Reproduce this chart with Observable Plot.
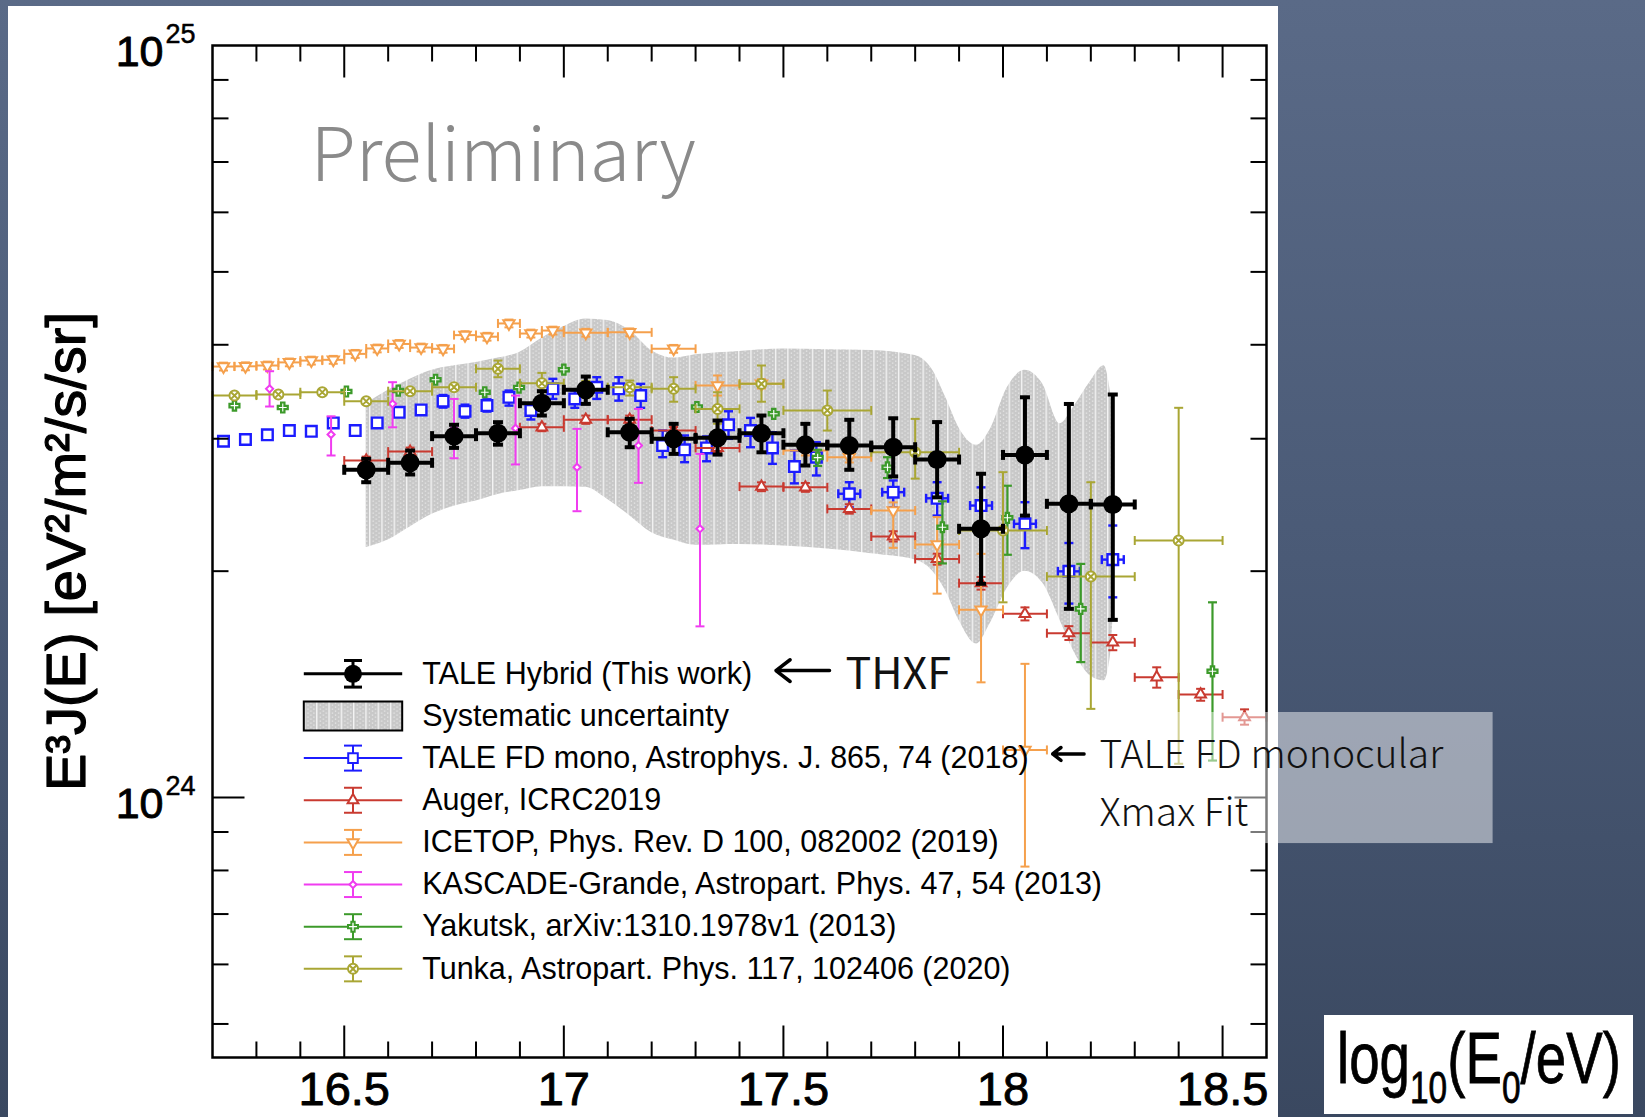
<!DOCTYPE html>
<html>
<head>
<meta charset="utf-8">
<script src="https://cdn.jsdelivr.net/npm/d3@7"></script>
<script src="https://cdn.jsdelivr.net/npm/@observablehq/plot@0.6"></script>
<style>
  html, body { margin: 0; padding: 0; }
  body {
    width: 1645px; height: 1117px; overflow: hidden; position: relative;
    background: linear-gradient(180deg, #5a6a87 0%, #4a5a76 50%, #3a4860 100%);
  }
  #panel { position: absolute; left: 8px; top: 6px; width: 1270px; height: 1111px; background: #fff; }
  #chart { position: absolute; left: 0; top: 0; }
  #xlabel { position: absolute; left: 1324px; top: 1013px; overflow: visible; }
</style>
</head>
<body>
<div id="panel"></div>
<div id="chart"></div>
<svg id="xlabel" width="309" height="104">
  <rect y="2" width="309" height="99" fill="#fff"></rect>
  <g transform="translate(13,70) scale(0.76,1)" font-family="Liberation Sans, Arial, sans-serif" font-size="72" fill="#000" stroke="#000" stroke-width="0.8">
    <text>log<tspan font-size="44" dy="20">10</tspan><tspan dy="-20">(E</tspan><tspan font-size="44" dy="20">0</tspan><tspan dy="-20">/eV)</tspan></text>
  </g>
</svg>
<script>
// E^3 J(E) values are given in units of 1e24 eV^2 m^-2 s^-1 sr^-1
const UNIT = 1e24;

// TALE hybrid spectrum (this work)
const hybridLogE = [16.55, 16.65, 16.75, 16.85, 16.95, 17.05, 17.15, 17.25, 17.35, 17.45, 17.55, 17.65, 17.75, 17.85, 17.95, 18.05, 18.15, 18.25];
const hybridFlux = [2.728, 2.787, 3.024, 3.051, 3.345, 3.485, 3.060, 2.999, 3.008, 3.051, 2.946, 2.938, 2.923, 2.815, 2.277, 2.855, 2.458, 2.453];
const hybridLo   = [2.626, 2.689, 2.917, 2.946, 3.221, 3.338, 2.923, 2.864, 2.858, 2.878, 2.764, 2.728, 2.673, 2.507, 1.924, 2.371, 1.782, 1.723];
const hybridHi   = [2.821, 2.894, 3.131, 3.156, 3.470, 3.629, 3.189, 3.140, 3.172, 3.221, 3.140, 3.179, 3.194, 3.157, 2.695, 3.406, 3.337, 3.435];
const hybridHalfBin = [0.05, 0.05, 0.05, 0.05, 0.05, 0.05, 0.05, 0.05, 0.05, 0.05, 0.05, 0.05, 0.05, 0.05, 0.05, 0.05, 0.05, 0.05];

// Systematic uncertainty band of the hybrid spectrum
const sysLogE = [16.55, 16.60, 16.65, 16.70, 16.75, 16.80, 16.85, 16.90, 16.95, 17.00, 17.05, 17.10, 17.15, 17.20, 17.25, 17.30, 17.40, 17.50, 17.60, 17.70, 17.80, 17.84, 17.87, 17.90, 17.94, 17.97, 18.01, 18.05, 18.09, 18.13, 18.16, 18.20, 18.23, 18.245, 18.255];
const sysHi   = [3.34, 3.48, 3.60, 3.70, 3.75, 3.79, 3.84, 3.91, 4.08, 4.23, 4.33, 4.31, 4.18, 3.93, 3.84, 3.88, 3.92, 3.95, 3.94, 3.93, 3.87, 3.70, 3.40, 3.10, 2.94, 3.08, 3.51, 3.70, 3.55, 3.14, 3.30, 3.58, 3.75, 3.45, 3.05];
const sysLo   = [2.15, 2.20, 2.29, 2.38, 2.44, 2.48, 2.53, 2.56, 2.59, 2.59, 2.585, 2.49, 2.37, 2.25, 2.20, 2.165, 2.17, 2.16, 2.14, 2.11, 2.07, 2.00, 1.88, 1.72, 1.60, 1.70, 1.90, 2.00, 1.93, 1.72, 1.57, 1.45, 1.43, 1.55, 2.00];

// TALE FD monocular
const monoLogE = [16.225, 16.275, 16.325, 16.375, 16.425, 16.475, 16.525, 16.575, 16.625, 16.675, 16.725, 16.775, 16.825, 16.875, 16.925, 16.975, 17.025, 17.075, 17.125, 17.175, 17.225, 17.275, 17.325, 17.375, 17.425, 17.475, 17.525, 17.575, 17.65, 17.75, 17.85, 17.95, 18.05, 18.15, 18.25];
const monoFlux = [2.977, 2.993, 3.036, 3.076, 3.069, 3.149, 3.076, 3.149, 3.253, 3.277, 3.365, 3.263, 3.321, 3.406, 3.272, 3.495, 3.389, 3.512, 3.495, 3.424, 2.938, 2.900, 2.917, 3.131, 3.076, 2.917, 2.755, 2.835, 2.535, 2.547, 2.50, 2.445, 2.312, 1.999, 2.072];
const monoLo   = [null, null, null, null, null, null, null, null, null, null, 3.30, 3.20, 3.26, 3.320, 3.182, 3.389, 3.298, 3.389, 3.371, 3.298, 2.835, 2.792, 2.800, 2.999, 2.923, 2.778, 2.617, 2.681, 2.432, 2.432, 2.371, 2.31, 2.146, 1.811, 1.846];
const monoHi   = [null, null, null, null, null, null, null, null, null, null, 3.43, 3.33, 3.385, 3.477, 3.330, 3.604, 3.477, 3.622, 3.622, 3.549, 3.076, 3.030, 3.021, 3.263, 3.198, 3.060, 2.894, 2.968, 2.626, 2.640, 2.626, 2.585, 2.470, 2.180, 2.300];
const monoHalfBin = [0, 0, 0, 0, 0, 0, 0, 0, 0, 0, 0, 0, 0, 0, 0, 0, 0, 0, 0, 0, 0, 0, 0, 0, 0, 0, 0, 0, 0.025, 0.025, 0.025, 0.025, 0.025, 0.025, 0.025];

// Auger, ICRC2019
const augerLogE = [16.55, 16.65, 16.95, 17.05, 17.15, 17.25, 17.35, 17.45, 17.55, 17.65, 17.75, 17.85, 17.95, 18.05, 18.15, 18.25, 18.35, 18.45, 18.55];
const augerFlux = [2.806, 2.884, 3.107, 3.180, 3.180, 3.076, 2.917, 2.591, 2.585, 2.420, 2.224, 2.076, 1.928, 1.755, 1.654, 1.608, 1.445, 1.371, 1.279];
const augerLo   = [2.77, 2.85, 3.07, 3.14, 3.14, 3.04, 2.88, 2.555, 2.55, 2.385, 2.19, 2.04, 1.89, 1.72, 1.62, 1.57, 1.40, 1.345, 1.25];
const augerHi   = [2.84, 2.92, 3.14, 3.22, 3.22, 3.11, 2.955, 2.625, 2.62, 2.455, 2.26, 2.11, 1.965, 1.79, 1.69, 1.645, 1.49, 1.395, 1.31];
const augerHalfBin = [0.05, 0.05, 0.05, 0.05, 0.05, 0.05, 0.05, 0.05, 0.05, 0.05, 0.05, 0.05, 0.05, 0.05, 0.05, 0.05, 0.05, 0.05, 0.05];

// IceTop
const icetopLogE = [16.225, 16.275, 16.325, 16.375, 16.425, 16.475, 16.525, 16.575, 16.625, 16.675, 16.725, 16.775, 16.825, 16.875, 16.925, 16.975, 17.05, 17.15, 17.25, 17.35, 17.45, 17.55, 17.65, 17.75, 17.85, 17.95, 18.05];
const icetopFlux = [3.742, 3.745, 3.754, 3.79, 3.811, 3.82, 3.89, 3.955, 4.01, 3.966, 3.951, 4.12, 4.10, 4.27, 4.14, 4.178, 4.15, 4.155, 3.951, 3.531, 3.549, 2.894, 2.835, 2.408, 2.170, 1.777, 1.157];
const icetopLo   = [3.697, 3.700, 3.709, 3.745, 3.765, 3.774, 3.843, 3.908, 3.962, 3.918, 3.904, 4.071, 4.051, 4.219, 4.090, 4.128, 4.100, 4.105, 3.904, 3.424, 3.50, 2.85, 2.79, 2.148, 1.867, 1.423, 0.8095];
const icetopHi   = [3.787, 3.790, 3.799, 3.835, 3.857, 3.866, 3.937, 4.002, 4.058, 4.014, 3.998, 4.169, 4.149, 4.321, 4.190, 4.228, 4.200, 4.205, 3.998, 3.641, 3.60, 2.94, 2.88, 2.469, 2.360, 2.109, 1.506];
const icetopHalfBin = [0.025, 0.025, 0.025, 0.025, 0.025, 0.025, 0.025, 0.025, 0.025, 0.025, 0.025, 0.025, 0.025, 0.025, 0.025, 0.025, 0.05, 0.05, 0.05, 0.05, 0.05, 0.05, 0.05, 0.05, 0.05, 0.05, 0.05];

// KASCADE-Grande
const kascadeLogE = [16.33, 16.47, 16.61, 16.75, 16.89, 17.03, 17.17, 17.31];
const kascadeFlux = [3.495, 3.039, 3.338, 3.095, 3.098, 2.749, 2.938, 2.277];
const kascadeLo   = [3.311, 2.850, 3.107, 2.826, 2.773, 2.403, 2.621, 1.689];
const kascadeHi   = [3.689, 3.213, 3.567, 3.389, 3.424, 3.092, 3.287, 2.864];
const kascadeHalfBin = [0, 0, 0, 0, 0, 0, 0, 0];

// Yakutsk
const yakutskLogE = [16.25, 16.36, 16.505, 16.623, 16.708, 16.82, 16.898, 17.0, 17.303, 17.478, 17.578, 17.737, 17.862, 18.01, 18.177, 18.477];
const yakutskFlux = [3.320, 3.301, 3.467, 3.477, 3.594, 3.459, 3.509, 3.706, 3.306, 3.238, 2.832, 2.749, 2.288, 2.355, 1.782, 1.472];
const yakutskLo   = [null, null, null, null, null, null, null, null, null, null, 2.76, 2.66, 2.048, 2.103, 1.514, 1.12];
const yakutskHi   = [null, null, null, null, null, null, null, null, null, null, 2.90, 2.835, 2.477, 2.598, 2.045, 1.818];
const yakutskHalfBin = [0, 0, 0, 0, 0, 0, 0, 0, 0, 0, 0, 0, 0, 0, 0, 0];

// Tunka-133
const tunkaLogE = [16.25, 16.35, 16.45, 16.55, 16.65, 16.75, 16.85, 16.95, 17.05, 17.15, 17.25, 17.35, 17.45, 17.6, 17.8, 18.0, 18.2, 18.4];
const tunkaFlux = [3.424, 3.435, 3.459, 3.365, 3.470, 3.513, 3.716, 3.555, 3.49, 3.513, 3.495, 3.287, 3.549, 3.272, 2.878, 2.265, 1.967, 2.197];
const tunkaLo   = [null, null, null, null, null, null, 3.622, 3.46, 3.40, 3.424, 3.36, 3.141, 3.36, 3.076, 2.655, 1.818, 1.312, 1.109];
const tunkaHi   = [null, null, null, null, null, null, 3.811, 3.67, 3.58, 3.585, 3.622, 3.459, 3.754, 3.477, 3.188, 2.708, 2.626, 3.298];
const tunkaHalfBin = [0.05, 0.05, 0.05, 0.05, 0.05, 0.05, 0.05, 0.05, 0.05, 0.05, 0.05, 0.05, 0.05, 0.1, 0.1, 0.1, 0.1, 0.1];

// Axis ticks
const xMajorTicks = [16.5, 17, 17.5, 18, 18.5];
const xMinorTicks = [16.3, 16.4, 16.6, 16.7, 16.8, 16.9, 17.1, 17.2, 17.3, 17.4, 17.6, 17.7, 17.8, 17.9, 18.1, 18.2, 18.3, 18.4];
const yMajorTicks = [1e24];
const yMinorTicks = [5e23, 6e23, 7e23, 8e23, 9e23, 2e24, 3e24, 4e24, 5e24, 6e24, 7e24, 8e24, 9e24];
const yTickLabels = [{value: 1e24, exp: "24"}, {value: 1e25, exp: "25"}];

// Annotations (log10 E, E^3 J in UNIT)
const thxfArrow = [{x1: 17.605, x2: 17.483, y: 1.475}];
const monoArrow = [{x1: 18.185, x2: 18.113, y: 1.143}];
const noteBox = [{x1: 18.189, x2: 19.116, y1: 0.8686, y2: 1.2975}];

// ---- symbols ----
const rOf = size => Math.sqrt(size / Math.PI);
const segment = (ux, uy, both) => ({
  draw(ctx, size) {
    const r = rOf(size);
    ctx.moveTo(both ? -ux * r : 0, both ? -uy * r : 0);
    ctx.lineTo(ux * r, uy * r);
  }
});
const hLine = segment(1, 0, true);
const vLine = segment(0, 1, true);
const tickUp = segment(0, -1, false);
const tickDown = segment(0, 1, false);
const tickRight = segment(1, 0, false);
const tickLeft = segment(-1, 0, false);
const circleX = {
  draw(ctx, size) {
    const r = rOf(size), k = r * 0.62;
    ctx.moveTo(r, 0);
    ctx.arc(0, 0, r, 0, 2 * Math.PI);
    ctx.moveTo(-k, -k); ctx.lineTo(k, k);
    ctx.moveTo(-k, k); ctx.lineTo(k, -k);
  }
};
const boxSymbol = (w, h) => ({draw(ctx) { ctx.rect(-w, -h, 2 * w, 2 * h); }});

// ---- series definitions ----
const series = [
  {label: "TALE FD mono, Astrophys. J. 865, 74 (2018)", color: "#1c1cff",
   logE: monoLogE, flux: monoFlux, lo: monoLo, hi: monoHi, half: monoHalfBin,
   symbol: "square", r: 6.0, rotate: 0, width: 2.4},
  {label: "Auger, ICRC2019", color: "#c93a30",
   logE: augerLogE, flux: augerFlux, lo: augerLo, hi: augerHi, half: augerHalfBin,
   symbol: "triangle", r: 4.0, rotate: 0, width: 2},
  {label: "ICETOP, Phys. Rev. D 100, 082002 (2019)", color: "#f5a04c",
   logE: icetopLogE, flux: icetopFlux, lo: icetopLo, hi: icetopHi, half: icetopHalfBin,
   symbol: "triangle", r: 4.2, rotate: 180, width: 2},
  {label: "KASCADE-Grande, Astropart. Phys. 47, 54 (2013)", color: "#f03cf0",
   logE: kascadeLogE, flux: kascadeFlux, lo: kascadeLo, hi: kascadeHi, half: kascadeHalfBin,
   symbol: "diamond2", r: 3.2, rotate: 0, width: 2},
  {label: "Yakutsk, arXiv:1310.1978v1 (2013)", color: "#3c9a2a",
   logE: yakutskLogE, flux: yakutskFlux, lo: yakutskLo, hi: yakutskHi, half: yakutskHalfBin,
   symbol: "cross", r: 4.2, rotate: 0, width: 2.2},
  {label: "Tunka, Astropart. Phys. 117, 102406 (2020)", color: "#a9a634",
   logE: tunkaLogE, flux: tunkaFlux, lo: tunkaLo, hi: tunkaHi, half: tunkaHalfBin,
   symbol: circleX, r: 5, rotate: 0, width: 2}
];

function rowsOf(s) {
  return s.logE.map((e, i) => ({e, v: s.flux[i] * UNIT,
    lo: s.lo[i] == null ? null : s.lo[i] * UNIT,
    hi: s.hi[i] == null ? null : s.hi[i] * UNIT,
    hw: s.half[i]}));
}

function errorMarks(rows, color, width, cap, marker) {
  const yErr = rows.filter(d => d.lo != null);
  const xErr = rows.filter(d => d.hw > 0);
  const line = {stroke: color, strokeWidth: width, fill: "none"};
  return [
    Plot.ruleY(xErr, {y: "v", x1: d => d.e - d.hw, x2: d => d.e + d.hw, ...line}),
    Plot.ruleX(yErr, {x: "e", y1: "lo", y2: "hi", ...line}),
    Plot.dot(yErr, {x: "e", y: "lo", symbol: hLine, r: cap, ...line}),
    Plot.dot(yErr, {x: "e", y: "hi", symbol: hLine, r: cap, ...line}),
    Plot.dot(xErr, {x: d => d.e - d.hw, y: "v", symbol: vLine, r: cap, ...line}),
    Plot.dot(xErr, {x: d => d.e + d.hw, y: "v", symbol: vLine, r: cap, ...line}),
    Plot.dot(rows, {x: "e", y: "v", ...marker})
  ];
}

const sysRows = sysLogE.map((e, i) => ({e, lo: sysLo[i] * UNIT, hi: sysHi[i] * UNIT}));
const hybridRows = rowsOf({logE: hybridLogE, flux: hybridFlux, lo: hybridLo, hi: hybridHi, half: hybridHalfBin});

const cjk = "'Noto Sans CJK JP', 'Noto Sans', sans-serif";
const helv = "Liberation Sans, Arial, sans-serif";

// ---- legend ----
const ROW0 = 628.3, ROWSTEP = 42.15, LX = 140.5, LHALF = 49.2, LTEXT = 209.7;
function legendRow(item, i) {
  const dy = ROW0 + ROWSTEP * i;
  const at = {frameAnchor: "top-left", dx: LX};
  const m = [];
  if (item.band) {
    m.push(Plot.dot([0], {...at, dy, symbol: boxSymbol(LHALF, 14.5), r: 1, fill: "url(#sysHatch)", stroke: "#000", strokeWidth: 2}));
  } else {
    const line = {stroke: item.color, strokeWidth: item.lw, fill: "none"};
    m.push(Plot.dot([0], {...at, dy, symbol: hLine, r: LHALF, ...line}));
    m.push(Plot.dot([0], {...at, dy, symbol: vLine, r: item.err, ...line}));
    m.push(Plot.dot([0], {...at, dy: dy - item.err, symbol: hLine, r: 9, ...line}));
    m.push(Plot.dot([0], {...at, dy: dy + item.err, symbol: hLine, r: 9, ...line}));
    m.push(Plot.dot([0], {...at, dy, symbol: item.symbol, r: item.r, rotate: item.rotate || 0,
      fill: item.fill, stroke: item.markerStroke, strokeWidth: item.lw}));
  }
  m.push(Plot.text([item.label], {frameAnchor: "top-left", dx: LTEXT, dy, text: d => d,
    textAnchor: "start", lineAnchor: "middle", fontSize: 30.5, fill: "#000", fontFamily: helv}));
  return m;
}
const legendItems = [
  {label: "TALE Hybrid (This work)", color: "#000", lw: 3, err: 13.3, symbol: "circle", r: 9, fill: "#000", markerStroke: "none"},
  {label: "Systematic uncertainty", band: true},
  ...series.map(s => ({label: s.label, color: s.color, lw: 2, err: 12.5, symbol: s.symbol, r: Math.min(s.r, 5.4), rotate: s.rotate, fill: "#fff", markerStroke: s.color}))
];

const heavy = {fill: "#000", stroke: "#000", strokeWidth: 0.9};

const chart = Plot.plot({
  width: 1645,
  height: 1117,
  marginLeft: 212,
  marginRight: 379,
  marginTop: 45,
  marginBottom: 60,
  x: {domain: [16.2, 18.6], axis: null},
  y: {type: "log", domain: [4.512e23, 1e25], axis: null},
  style: {background: "transparent", fontFamily: helv, overflow: "visible"},
  marks: [
    // systematic band
    Plot.areaY(sysRows, {x: "e", y1: "lo", y2: "hi", fill: "url(#sysHatch)", curve: "monotone-x"}),
    // comparison measurements
    ...series.flatMap(s => errorMarks(rowsOf(s), s.color, s.width, 4.5,
      {symbol: s.symbol, r: s.r, rotate: s.rotate, fill: "#fff", stroke: s.color, strokeWidth: s.width})),
    // TALE hybrid
    ...errorMarks(hybridRows, "#000", 4, 5, {symbol: "circle", r: 9.5, fill: "#000", stroke: "none"}),

    // frame and ticks on all four sides
    Plot.frame({stroke: "#000", strokeWidth: 2.5}),
    Plot.dot(xMajorTicks, {x: d => d, frameAnchor: "bottom", symbol: tickUp, r: 32, stroke: "#000", strokeWidth: 2, fill: "none"}),
    Plot.dot(xMinorTicks, {x: d => d, frameAnchor: "bottom", symbol: tickUp, r: 16, stroke: "#000", strokeWidth: 2, fill: "none"}),
    Plot.dot(xMajorTicks, {x: d => d, frameAnchor: "top", symbol: tickDown, r: 32, stroke: "#000", strokeWidth: 2, fill: "none"}),
    Plot.dot(xMinorTicks, {x: d => d, frameAnchor: "top", symbol: tickDown, r: 16, stroke: "#000", strokeWidth: 2, fill: "none"}),
    Plot.dot(yMajorTicks, {y: d => d, frameAnchor: "left", symbol: tickRight, r: 32, stroke: "#000", strokeWidth: 2, fill: "none"}),
    Plot.dot(yMinorTicks, {y: d => d, frameAnchor: "left", symbol: tickRight, r: 16, stroke: "#000", strokeWidth: 2, fill: "none"}),
    Plot.dot(yMajorTicks, {y: d => d, frameAnchor: "right", symbol: tickLeft, r: 32, stroke: "#000", strokeWidth: 2, fill: "none"}),
    Plot.dot(yMinorTicks, {y: d => d, frameAnchor: "right", symbol: tickLeft, r: 16, stroke: "#000", strokeWidth: 2, fill: "none"}),

    // tick labels
    Plot.text(xMajorTicks, {x: d => d, frameAnchor: "bottom", dy: 47, lineAnchor: "bottom", textAnchor: "middle", text: d => String(d), fontSize: 47, ...heavy}),
    Plot.text(yTickLabels, {y: "value", frameAnchor: "left", dx: -49, dy: 20, lineAnchor: "bottom", textAnchor: "end", text: () => "10", fontSize: 43, ...heavy}),
    Plot.text(yTickLabels, {y: "value", frameAnchor: "left", dx: -47, dy: -3, lineAnchor: "bottom", textAnchor: "start", text: "exp", fontSize: 27, fill: "#000", stroke: "#000", strokeWidth: 0.5}),

    // y axis title
    Plot.text(["E³J(E) [eV²/m²/s/sr]"], {frameAnchor: "left", dx: -145, rotate: -90, textAnchor: "middle", lineAnchor: "middle",
      text: d => d, fontSize: 56, ...heavy, strokeWidth: 1.2}),

    // legend
    ...legendItems.flatMap(legendRow),

    // annotations
    Plot.text(["Preliminary"], {frameAnchor: "top-left", dx: 98, dy: 135, lineAnchor: "bottom", textAnchor: "start", text: d => d,
      fontSize: 74, fontFamily: cjk, fontWeight: 300, fill: "#8a8a8a"}),
    Plot.text(["THXF"], {frameAnchor: "top-left", dx: 633, dy: 643, lineAnchor: "bottom", textAnchor: "start", text: d => d,
      fontSize: 43, fontFamily: cjk, fill: "#111"}),
    Plot.arrow(thxfArrow, {x1: "x1", x2: "x2", y1: d => d.y * UNIT, y2: d => d.y * UNIT, stroke: "#000", strokeWidth: 3.5, headLength: 20, headAngle: 75}),
    Plot.arrow(monoArrow, {x1: "x1", x2: "x2", y1: d => d.y * UNIT, y2: d => d.y * UNIT, stroke: "#000", strokeWidth: 3.5, headLength: 16, headAngle: 75}),
    Plot.rect(noteBox, {x1: "x1", x2: "x2", y1: d => d.y1 * UNIT, y2: d => d.y2 * UNIT, fill: "#fff", fillOpacity: 0.48}),
    Plot.text(["TALE FD monocular"], {frameAnchor: "top-left", dx: 887, dy: 722, lineAnchor: "bottom", textAnchor: "start", text: d => d,
      fontSize: 39, fontFamily: cjk, fontWeight: 300, fill: "#111"}),
    Plot.text(["Xmax Fit"], {frameAnchor: "top-left", dx: 887, dy: 780, lineAnchor: "bottom", textAnchor: "start", text: d => d,
      fontSize: 39, fontFamily: cjk, fontWeight: 300, fill: "#111"})
  ]
});

// hatched fill used by the systematic band
d3.select(chart).insert("defs", ":first-child").html(`
  <pattern id="sysHatch" patternUnits="userSpaceOnUse" width="12.3" height="4">
    <rect width="12.3" height="4" fill="#c8c8c8"></rect>
    <rect x="0" y="0" width="1.4" height="4" fill="#f4f4f4"></rect>
    <rect x="3.5" y="0.5" width="1.3" height="1.3" fill="#e8e8e8"></rect>
    <rect x="6.5" y="2.5" width="1.3" height="1.3" fill="#e8e8e8"></rect>
    <rect x="9.5" y="0.5" width="1.3" height="1.3" fill="#e8e8e8"></rect>
  </pattern>`);

document.getElementById("chart").appendChild(chart);
</script>
</body>
</html>
